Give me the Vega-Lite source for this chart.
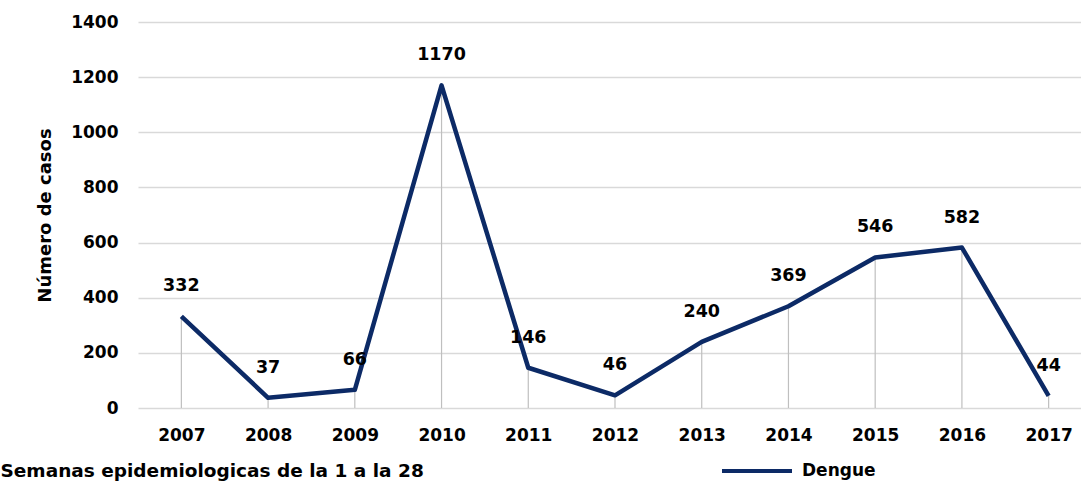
{
  "$schema": "https://vega.github.io/schema/vega-lite/v6.json",
  "autosize": {"type": "none"},
  "width": 954,
  "height": 386,
  "padding": {"left": 138, "top": 22, "right": 0, "bottom": 77},
  "background": "white",
  "config": {
    "view": {"stroke": null},
    "font": "DejaVu Sans",
    "axis": {"labelFont": "DejaVu Sans", "titleFont": "DejaVu Sans"}
  },
  "data": {
    "values": [
      {"year": "2007", "casos": 332, "serie": "Dengue"},
      {"year": "2008", "casos": 37, "serie": "Dengue"},
      {"year": "2009", "casos": 66, "serie": "Dengue"},
      {"year": "2010", "casos": 1170, "serie": "Dengue"},
      {"year": "2011", "casos": 146, "serie": "Dengue"},
      {"year": "2012", "casos": 46, "serie": "Dengue"},
      {"year": "2013", "casos": 240, "serie": "Dengue"},
      {"year": "2014", "casos": 369, "serie": "Dengue"},
      {"year": "2015", "casos": 546, "serie": "Dengue"},
      {"year": "2016", "casos": 582, "serie": "Dengue"},
      {"year": "2017", "casos": 44, "serie": "Dengue"}
    ]
  },
  "encoding": {
    "x": {
      "field": "year",
      "type": "ordinal",
      "scale": {"type": "point", "padding": 0.5},
      "axis": {
        "title": "Semanas epidemiologicas de la 1 a la 28",
        "titleAnchor": "start",
        "titleAlign": "left",
        "titleBaseline": "middle",
        "titleX": -138,
        "titleY": 62,
        "titleFontSize": 18.5,
        "titleFontWeight": "bold",
        "titleColor": "black",
        "labelAngle": 0,
        "labelFontSize": 17,
        "labelFontWeight": "bold",
        "labelColor": "black",
        "labelPadding": 19,
        "ticks": false,
        "domain": false,
        "grid": false
      }
    },
    "y": {
      "field": "casos",
      "type": "quantitative",
      "scale": {"domain": [0, 1400]},
      "axis": {
        "title": "Número de casos",
        "titleFontSize": 18,
        "titleFontWeight": "bold",
        "titleColor": "black",
        "titleX": -93,
        "titleY": 193,
        "titleAngle": -90,
        "titleAlign": "center",
        "titleBaseline": "middle",
        "values": [0, 200, 400, 600, 800, 1000, 1200, 1400],
        "format": "d",
        "labelFontSize": 17,
        "labelFontWeight": "bold",
        "labelColor": "black",
        "labelPadding": 20,
        "ticks": false,
        "domain": false,
        "grid": true,
        "gridColor": "#d9d9d9",
        "gridWidth": 1.5
      }
    }
  },
  "layer": [
    {
      "mark": {"type": "rule", "color": "#bfbfbf", "strokeWidth": 1.2},
      "encoding": {"y2": {"datum": 0}}
    },
    {
      "mark": {"type": "line", "strokeWidth": 4.5, "strokeJoin": "round"},
      "encoding": {
        "color": {
          "field": "serie",
          "type": "nominal",
          "scale": {"range": ["#0c2a66"]},
          "legend": {
            "title": null,
            "orient": "none",
            "legendX": 582,
            "legendY": 412,
            "padding": 0,
            "symbolType": "stroke",
            "symbolSize": 4900,
            "symbolStrokeWidth": 4,
            "labelFontSize": 17,
            "labelFontWeight": "bold",
            "labelColor": "black",
            "labelOffset": 8,
            "labelFont": "DejaVu Sans"
          }
        }
      }
    },
    {
      "mark": {"type": "text", "dy": -30, "fontSize": 17.5, "fontWeight": "bold", "color": "black", "baseline": "middle"},
      "encoding": {"text": {"field": "casos", "type": "quantitative"}}
    }
  ]
}
